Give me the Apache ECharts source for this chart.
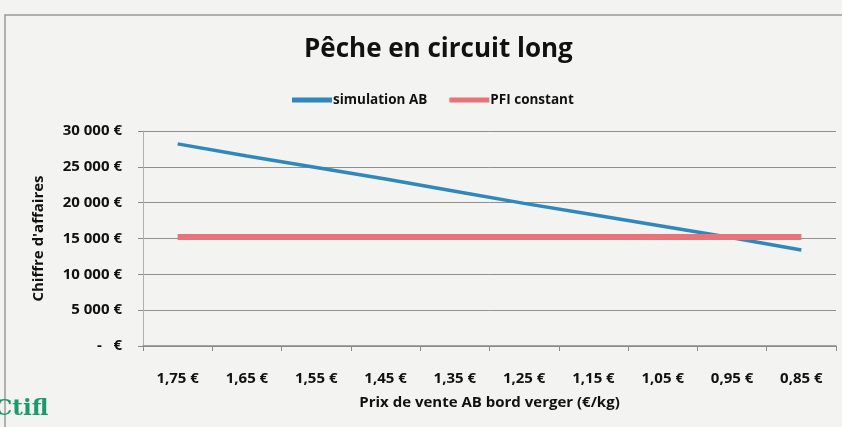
<!DOCTYPE html>
<html>
<head>
<meta charset="utf-8">
<script src="https://cdn.jsdelivr.net/npm/echarts@6/dist/echarts.min.js"></script>
<style>
  html, body { margin: 0; padding: 0; background: #f3f3f1; }
  #chart { width: 842px; height: 427px; }
</style>
</head>
<body>
<div id="chart"></div>
<script>
// Prix de vente AB (€/kg), du plus élevé au plus bas
const prix = ['1,75 €', '1,65 €', '1,55 €', '1,45 €', '1,35 €', '1,25 €', '1,15 €', '1,05 €', '0,95 €', '0,85 €'];
// Chiffre d'affaires (€)
const simulationAB = [28200, 26500, 24900, 23300, 21600, 19900, 18300, 16700, 15100, 13400];
const pfiConstant = [15200, 15200, 15200, 15200, 15200, 15200, 15200, 15200, 15200, 15200];
const yTicks = [0, 5000, 10000, 15000, 20000, 25000, 30000];

const font = '"Open Sans", Lato, sans-serif';

function euro(v) {
  if (v === 0) return '-   €';
  return String(v).replace(/\B(?=(\d{3})+(?!\d))/g, ' ') + ' €';
}

const chart = echarts.init(document.getElementById('chart'), null, { renderer: 'canvas' });
chart.setOption({
  backgroundColor: '#f3f3f1',
  animation: false,
  title: {
    text: 'Pêche en circuit long',
    left: 299,
    top: 32,
    textStyle: { fontFamily: font, fontWeight: 'bold', fontSize: 26, color: '#111' }
  },
  legend: {
    top: 88,
    left: 287,
    itemWidth: 40,
    itemHeight: 5,
    itemGap: 22,
    icon: 'rect',
    textStyle: { fontFamily: font, fontWeight: 'bold', fontSize: 13.5, color: '#111', padding: [0, 0, 0, -4] },
    data: ['simulation AB', 'PFI constant']
  },
  grid: { left: 143, right: 6, top: 131, bottom: 81 },
  xAxis: {
    type: 'category',
    data: prix,
    boundaryGap: true,
    name: 'Prix de vente AB bord verger (€/kg)',
    nameLocation: 'middle',
    nameGap: 49,
    nameTextStyle: { fontFamily: font, fontWeight: 'bold', fontSize: 15, color: '#111' },
    axisLine: { lineStyle: { color: '#8a8a8a', width: 1.5 } },
    axisTick: { show: true, length: 5, lineStyle: { color: '#8a8a8a' } },
    axisLabel: { fontFamily: font, fontWeight: 'bold', fontSize: 15, color: '#111', margin: 25 }
  },
  yAxis: {
    type: 'value',
    min: yTicks[0],
    max: yTicks[yTicks.length - 1],
    interval: 5000,
    name: "Chiffre d'affaires",
    nameLocation: 'middle',
    nameGap: 97,
    nameRotate: 90,
    nameTextStyle: { fontFamily: font, fontWeight: 'bold', fontSize: 15, color: '#111' },
    axisLine: { show: true, lineStyle: { color: '#b0b0b0' } },
    axisTick: { show: true, length: 5, lineStyle: { color: '#8a8a8a' } },
    splitLine: { lineStyle: { color: '#8f8f8f', width: 1 } },
    axisLabel: { fontFamily: font, fontWeight: 'bold', fontSize: 15, color: '#111', margin: 21, formatter: euro }
  },
  series: [
    {
      name: 'simulation AB',
      type: 'line',
      data: simulationAB,
      symbol: 'none',
      color: '#2f88b9',
      lineStyle: { width: 3.5, color: '#2f88b9' }
    },
    {
      name: 'PFI constant',
      type: 'line',
      data: pfiConstant,
      symbol: 'none',
      color: '#e9737b',
      lineStyle: { width: 6, color: '#e9737b' }
    }
  ],
  graphic: [
    {
      type: 'rect',
      shape: { x: 5, y: 15, width: 842, height: 420 },
      style: { fill: 'none', stroke: '#9a9a9a', lineWidth: 1.5 },
      silent: true
    },
    {
      type: 'text',
      left: -6,
      top: 398,
      style: { text: 'Ctifl', font: 'bold 23px "DejaVu Serif", "Liberation Serif", serif', fill: '#1d9a6c' }
    }
  ]
});
</script>
</body>
</html>
